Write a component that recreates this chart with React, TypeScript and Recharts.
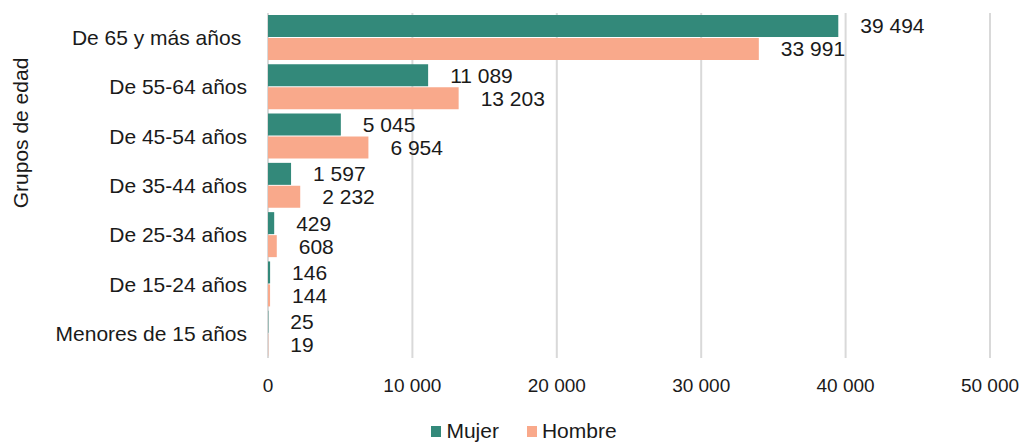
import React from 'react';
import { BarChart, Bar, XAxis, YAxis, CartesianGrid, Legend, LabelList, Label } from 'recharts';

const categories = [
  'De 65 y más años\u00a0',
  'De 55-64 años',
  'De 45-54 años',
  'De 35-44 años',
  'De 25-34 años',
  'De 15-24 años',
  'Menores de 15 años',
];
const mujer = [39494, 11089, 5045, 1597, 429, 146, 25];
const hombre = [33991, 13203, 6954, 2232, 608, 144, 19];
const xTicks = [0, 10000, 20000, 30000, 40000, 50000];

const data = categories.map((name, i) => ({ name, Mujer: mujer[i], Hombre: hombre[i] }));

const fmt = (v: number) => String(v).replace(/\B(?=(\d{3})+(?!\d))/g, ' ');

const FONT = '"Liberation Sans", Arial, sans-serif';
const C_M = '#33897A';
const C_H = '#F9A98B';
const TXT = '#1a1a1a';

const renderLegend = () => (
  <div style={{ display: 'flex', justifyContent: 'center', fontFamily: FONT, fontSize: 21, color: TXT, paddingLeft: 58, paddingTop: 6 }}>
    <span style={{ display: 'flex', alignItems: 'center', marginRight: 28 }}>
      <span style={{ width: 10, height: 11, background: C_M, display: 'inline-block', marginRight: 5 }} />
      Mujer
    </span>
    <span style={{ display: 'flex', alignItems: 'center' }}>
      <span style={{ width: 10, height: 11, background: C_H, display: 'inline-block', marginRight: 5 }} />
      Hombre
    </span>
  </div>
);

export default function App() {
  return (
    <div style={{ position: 'absolute', left: 0, top: 0, background: '#fff' }}>
      <BarChart
        width={1029}
        height={443}
        data={data}
        layout="vertical"
        margin={{ top: 13, right: 39, bottom: 0, left: 0 }}
        barSize={22}
        barGap={1}
      >
        <CartesianGrid horizontal={false} stroke="#d9d9d9" strokeWidth={2} />
        <XAxis
          type="number"
          domain={[0, 50000]}
          ticks={xTicks}
          tickFormatter={fmt}
          axisLine={false}
          tickLine={false}
          tickSize={0}
          tickMargin={21}
          height={55}
          tick={{ fontFamily: FONT, fontSize: 19, fill: TXT }}
        />
        <YAxis
          type="category"
          dataKey="name"
          width={268}
          axisLine={false}
          tickLine={false}
          tickSize={0}
          tickMargin={21}
          interval={0}
          tick={{ fontFamily: FONT, fontSize: 21, fill: TXT }}
        >
          <Label
            content={() => (
              <text
                x={20}
                y={133}
                transform="rotate(-90, 20, 133)"
                textAnchor="middle"
                dominantBaseline="central"
                style={{ fontFamily: FONT, fontSize: 21, fill: TXT }}
              >
                Grupos de edad
              </text>
            )}
          />
        </YAxis>
        <Legend verticalAlign="bottom" height={30} content={renderLegend} />
        <Bar dataKey="Mujer" fill={C_M} isAnimationActive={false}>
          <LabelList dataKey="Mujer" position="right" offset={22} formatter={fmt} style={{ fontFamily: FONT, fontSize: 21, fill: TXT }} />
        </Bar>
        <Bar dataKey="Hombre" fill={C_H} isAnimationActive={false}>
          <LabelList dataKey="Hombre" position="right" offset={22} formatter={fmt} style={{ fontFamily: FONT, fontSize: 21, fill: TXT }} />
        </Bar>
      </BarChart>
    </div>
  );
}
